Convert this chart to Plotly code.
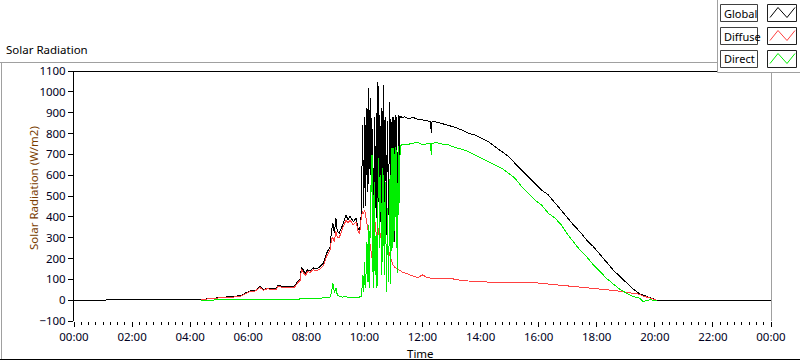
import plotly.graph_objects as go
import pandas as pd

# ---------------- data ----------------
minutes = [
    0, 258, 262, 266, 275, 285, 300, 315, 330, 345, 355, 365, 375, 384, 391, 398,
    410, 418, 422, 430, 445, 455, 460, 467, 470, 474, 478, 482, 488, 494, 500, 508,
    515, 522, 529, 532, 535, 538, 541, 544, 548, 555, 562, 566, 570, 577, 583, 587, 590,
    594, 595, 596, 597, 598, 599, 600, 601, 602, 603, 604, 605, 606, 607, 608, 609,
    610, 611, 612, 613, 614, 615, 616, 617, 618, 619, 620, 621, 622, 623, 624, 625,
    626, 627, 628, 629, 630, 631, 632, 633, 634, 635, 636, 637, 638, 639, 640, 641,
    642, 643, 644, 645, 646, 647, 648, 649, 650, 651, 652, 653, 654, 655, 656, 657,
    658, 659, 660, 661, 662, 663, 664, 665, 666, 667, 668, 669, 670, 671, 672, 673,
    674, 675, 676, 677, 678,
    684, 690, 700, 710, 720, 730, 737, 738, 739, 746, 760, 774, 787, 801, 815, 829,
    842, 856, 870, 884, 898, 911, 925, 938, 952, 966, 980, 994, 1007, 1018, 1032,
    1045, 1059, 1073, 1087, 1100, 1114, 1128, 1142, 1156, 1169, 1176, 1183, 1190,
    1197, 1204, 1440,
]

global_rad = [
    0, 0, 3, 4, 6, 8, 12, 15, 16, 22, 35, 45, 47, 68, 50, 58,
    57, 55, 73, 65, 66, 65, 82, 100, 160, 140, 126, 145, 142, 155, 150, 160,
    177, 225, 257, 337, 369, 321, 395, 329, 321, 361, 409, 385, 404, 377, 393, 345, 329,
    425, 600, 841, 700, 442, 520, 634, 880, 730, 450, 922, 780, 520, 840, 1017, 560,
    761, 930, 969, 600, 874, 700, 520, 820, 409, 560, 649, 880, 441, 720, 569, 900,
    395, 650, 1049, 820, 473, 600, 889, 720, 377, 560, 921, 880, 585, 450, 1033, 820,
    347, 880, 729, 500, 313, 860, 793, 560, 409, 700, 953, 860, 281, 520, 857, 640,
    361, 880, 874, 500, 281, 860, 889, 420, 873, 880, 281, 870, 889, 560, 870, 884,
    880, 878, 875, 880, 878,
    880, 870, 878, 868, 865, 860, 857, 801, 855, 857, 849, 841, 830, 817, 801, 793,
    777, 761, 737, 713, 689, 657, 625, 593, 561, 529, 505, 465, 433, 398, 361,
    329, 289, 257, 217, 180, 145, 113, 81, 52, 30, 24, 17, 10,
    4, 0, 0,
]

diffuse_rad = [
    None, None, 3, 4, 5, 7, 11, 14, 15, 20, 32, 42, 44, 62, 47, 54,
    53, 51, 68, 61, 62, 60, 77, 95, 148, 132, 117, 136, 134, 146, 141, 150,
    165, 212, 240, 295, 300, 280, 330, 300, 300, 345, 385, 370, 385, 362, 375, 330, 318,
    405, 410, 420, 425, 415, 420, 430, 425, 420, 400, 380, 370, 360, 345, 330, 320,
    313, 280, 250, 240, 230, 215, 200, 240, 281, 300, 320, 350, 377, 360, 330, 300,
    280, 290, 300, 325, 345, 335, 320, 310, 300, 315, 330, 320, 310, 300, 290, 280,
    270, 275, 280, 265, 250, 255, 260, 245, 230, 225, 220, 210, 200, 192, 185, 180,
    175, 170, 165, 162, 160, 158, 155, 153, 152, 151, 150, 149, 148, 146, 145, 142,
    140, 138, 137, 136, 135,
    130, 125, 115, 108, 121, 108, 106, 104, 106, 104, 102, 106, 100, 94, 92, 90,
    86, 86, 85, 85, 84, 84, 85, 87, 84, 80, 78, 76, 73, 70, 68,
    64, 60, 57, 54, 51, 47, 43, 38, 33, 28, 20, 15, 9,
    4, 0, None,
]

direct_rad = [
    None, None, 0, 0, 0, 1, 1, 1, 1, 2, 2, 3, 3, 5, 3, 3,
    2, 3, 4, 3, 4, 5, 5, 6, 8, 7, 7, 8, 8, 8, 9, 9,
    10, 12, 15, 40, 80, 35, 60, 25, 18, 15, 20, 12, 15, 12, 15, 12, 14,
    20, 60, 120, 60, 40, 100, 185, 80, 58, 60, 281, 150, 89, 200, 361, 120,
    58, 250, 400, 300, 697, 521, 697, 250, 58, 200, 569, 300, 121, 200, 313, 150,
    58, 250, 400, 681, 650, 250, 400, 601, 550, 121, 300, 633, 185, 600, 400, 121,
    250, 569, 500, 121, 41, 300, 441, 200, 89, 300, 521, 601, 80, 185, 400, 729,
    250, 450, 729, 281, 617, 700, 400, 737, 250, 720, 130, 600, 740, 410, 590, 740,
    745, 742, 750, 745, 748,
    745, 748, 755, 758, 745, 752, 750, 697, 750, 757, 750, 745, 733, 725, 713, 697,
    681, 665, 649, 633, 609, 585, 545, 513, 481, 457, 417, 393, 361, 321, 281,
    241, 209, 169, 137, 105, 78, 52, 33, 17, 9, -7, -2, 2,
    0, 0, None,
]

series_names = ["Global", "Diffuse", "Direct"]
series_colors = ["#000000", "#ff4040", "#00ee00"]
y_ticks = list(range(-100, 1101, 100))

# ---------------- figure ----------------
base = pd.Timestamp("2024-01-01")
times = [base + pd.Timedelta(minutes=m) for m in minutes]

W, H = 800, 361
L, R, T, B = 74, 29, 71, 40
PW, PH = W - L - R, H - T - B
FONT = "Noto Sans"


def px(x):
    return (x - L) / PW


def py(y):
    return (H - B - y) / PH


fig = go.Figure()
for name, vals, col in zip(series_names, [global_rad, diffuse_rad, direct_rad], series_colors):
    fig.add_trace(go.Scatter(x=times, y=vals, mode="lines", name=name,
                             line=dict(color=col, width=1), showlegend=False,
                             connectgaps=False))

shapes = []


def hline(x0, x1, y, color):
    shapes.append(dict(type="line", xref="paper", yref="paper", x0=px(x0), x1=px(x1),
                       y0=py(y), y1=py(y), line=dict(color=color, width=1)))


def vline(x, y0, y1, color):
    shapes.append(dict(type="line", xref="paper", yref="paper", x0=px(x), x1=px(x),
                       y0=py(y0), y1=py(y1), line=dict(color=color, width=1)))


def rect(x0, y0, x1, y1, color, fill="white"):
    shapes.append(dict(type="rect", xref="paper", yref="paper", x0=px(x0), x1=px(x1),
                       y0=py(y1), y1=py(y0), line=dict(color=color, width=1), fillcolor=fill))


# panel frame
hline(0, 720, 62.5, "#a0a0a0")
vline(1.5, 62, 360, "#a0a0a0")
hline(0, 800, 359.5, "#000000")
# plot frame
hline(74, 771.5, 71.5, "#000000")
vline(771.5, 71, 321, "#a0a0a0")

# legend panel
rect(717.5, -2, 802, 72.5, "#a0a0a0")
annotations = []
for i, (name, col) in enumerate(zip(series_names, series_colors)):
    top = 4.5 + 23 * i
    rect(720.5, top, 757.5, top + 17, "#404040")
    rect(767.5, top, 796.5, top + 17, "#202020")
    pts = [(770, top + 13), (778, top + 3), (787, top + 13), (795, top + 3)]
    path = "M " + " L ".join(f"{px(a)},{py(b)}" for a, b in pts)
    shapes.append(dict(type="path", xref="paper", yref="paper", path=path,
                       line=dict(color=col, width=1)))
    annotations.append(dict(text=name, xref="paper", yref="paper", x=px(722), y=py(top + 8.5),
                            xanchor="left", yanchor="middle", showarrow=False,
                            font=dict(family=FONT, size=11, color="#000000")))

annotations.append(dict(text="Solar Radiation", xref="paper", yref="paper", x=px(4), y=py(50),
                        xanchor="left", yanchor="middle", showarrow=False,
                        font=dict(family=FONT, size=11.5, color="#000000")))
annotations.append(dict(text="Solar Radiation (W/m2)", xref="paper", yref="paper", x=px(33),
                        y=py(188), xanchor="center", yanchor="middle", textangle=-90,
                        showarrow=False, font=dict(family=FONT, size=11.5, color="#7a3c00")))
annotations.append(dict(text="Time", xref="paper", yref="paper", x=px(420), y=py(353),
                        xanchor="center", yanchor="middle", showarrow=False,
                        font=dict(family=FONT, size=11.5, color="#000000")))

fig.update_layout(
    width=W, height=H,
    margin=dict(l=L, r=R, t=T, b=B, pad=0),
    paper_bgcolor="white", plot_bgcolor="white",
    shapes=shapes, annotations=annotations,
    xaxis=dict(type="date", range=[base, base + pd.Timedelta(days=1)],
               tick0=base, dtick=2 * 3600 * 1000, tickformat="%H:%M",
               ticks="outside", ticklen=5, tickcolor="#000000", tickwidth=1,
               showgrid=False, zeroline=False, showline=False,
               tickfont=dict(family=FONT, size=11.5, color="#000022"),
               minor=dict(dtick=15 * 60 * 1000, ticks="outside", ticklen=3,
                          tickcolor="#000000", showgrid=False)),
    yaxis=dict(range=[-100, 1100], tickvals=y_ticks, ticks="outside", ticklen=5,
               tickcolor="#000000", tickwidth=1, showgrid=False, zeroline=False,
               showline=True, linecolor="#000000", linewidth=1,
               tickfont=dict(family=FONT, size=11.5, color="#000022")),
)

post = (
    "document.body.style.margin='0';"
    "document.querySelectorAll('.scatterlayer path').forEach(function(p){"
    "p.style.shapeRendering='crispEdges';});"
)
fig.write_html("out.html", config={"displayModeBar": False}, post_script=post)
